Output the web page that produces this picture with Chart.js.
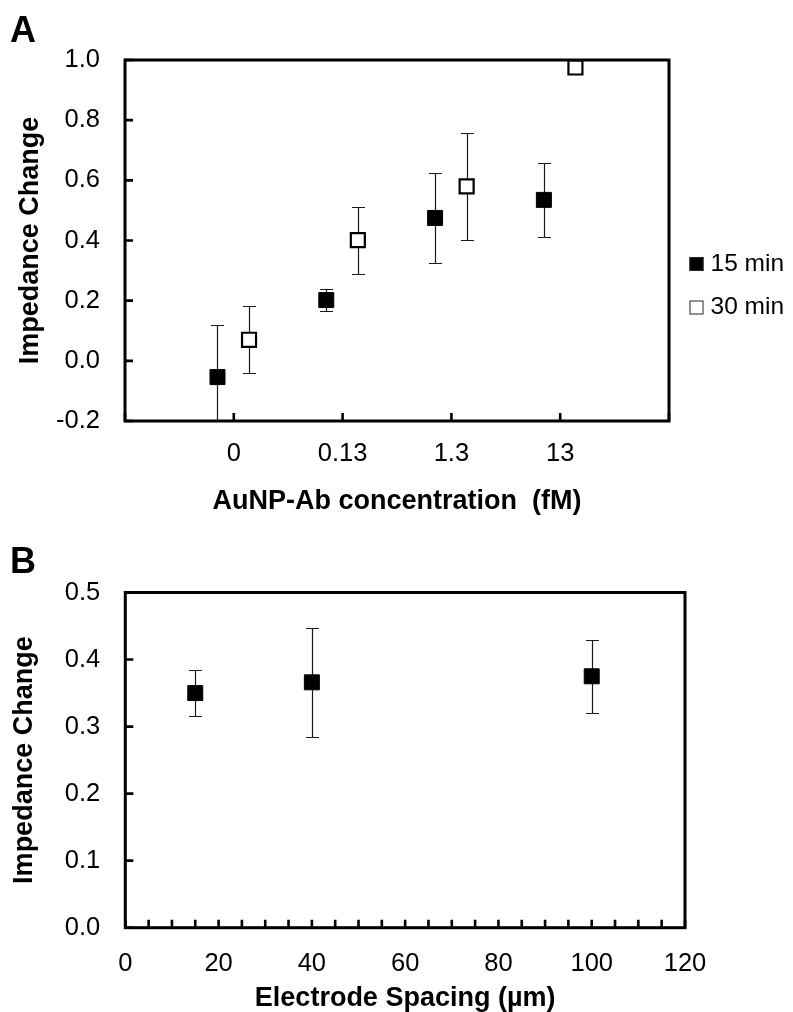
<!DOCTYPE html>
<html>
<head>
<meta charset="utf-8">
<script src="https://cdn.jsdelivr.net/npm/chart.js@4.4.1/dist/chart.umd.min.js"></script>
<style>
  html, body { margin: 0; padding: 0; background: #fff; }
  #wrapA { position: absolute; left: 0; top: 0; width: 793px; height: 525px; }
  #wrapB { position: absolute; left: 0; top: 525px; width: 793px; height: 487px; }
  canvas { display: block; }
</style>
</head>
<body>
<div id="wrapA"><canvas id="chartA" width="793" height="525"></canvas></div>
<div id="wrapB"><canvas id="chartB" width="793" height="487"></canvas></div>
<script>
// ---------- Data: panel A ----------
const categoriesA = ['0', '0.13', '1.3', '13'];
const seriesLabelsA = ['15 min', '30 min'];
const values15 = [-0.054, 0.202, 0.475, 0.535];
const errors15 = [0.173, 0.037, 0.150, 0.124];
const values30 = [0.070, 0.401, 0.580, 0.975];
const errors30 = [0.111, 0.112, 0.178, 0];
const yTickStepA = 0.2;

// ---------- Data: panel B ----------
const spacingB = [15, 40, 100];
const valuesB = [0.350, 0.366, 0.375];
const errorsB = [0.034, 0.081, 0.054];
const xLabelStepB = 20;
const xMinorStepB = 5;
const yTickStepB = 0.1;

// ---------- Styling / layout ----------
const FAMILY = '"Liberation Sans", Arial, Helvetica, sans-serif';
const OFFSET15 = -0.15;   // horizontal offset of series within a category slot
const OFFSET30 = 0.14;
Chart.defaults.font.family = FAMILY;
Chart.defaults.color = '#000';

const errorBars = {
  id: 'errorBars',
  beforeDatasetsDraw(chart) {
    const { ctx, chartArea: a, scales: { y } } = chart;
    ctx.save();
    ctx.beginPath();
    ctx.rect(a.left, a.top, a.right - a.left, a.bottom - a.top);
    ctx.clip();
    ctx.strokeStyle = '#1a1a1a';
    ctx.lineWidth = 1.2;
    chart.data.datasets.forEach((ds, di) => {
      const meta = chart.getDatasetMeta(di);
      meta.data.forEach((pt, i) => {
        const e = ds.errors ? ds.errors[i] : 0;
        if (!e) return;
        const v = ds.data[i].y;
        const x = Math.round(pt.x) + 0.5;
        const y1 = Math.round(y.getPixelForValue(v + e)) + 0.5;
        const y2 = Math.round(y.getPixelForValue(v - e)) + 0.5;
        ctx.beginPath();
        ctx.moveTo(x, y1); ctx.lineTo(x, y2);
        ctx.moveTo(x - 6.5, y1); ctx.lineTo(x + 6.5, y1);
        ctx.moveTo(x - 6.5, y2); ctx.lineTo(x + 6.5, y2);
        ctx.stroke();
      });
    });
    ctx.restore();
  }
};

const frame = {
  id: 'frame',
  afterDatasetsDraw(chart, args, opts) {
    const { ctx, chartArea: a, scales: { x, y } } = chart;
    ctx.save();
    ctx.strokeStyle = '#000';
    ctx.lineWidth = 2.6;
    ctx.beginPath();
    y.ticks.forEach(t => {
      const py = y.getPixelForValue(t.value);
      ctx.moveTo(a.left, py); ctx.lineTo(a.left + opts.tickLen, py);
    });
    x.ticks.forEach(t => {
      const px = x.getPixelForValue(t.value);
      ctx.moveTo(px, a.bottom); ctx.lineTo(px, a.bottom - opts.tickLen);
    });
    ctx.stroke();
    ctx.lineWidth = 3;
    ctx.strokeRect(a.left, a.top, a.right - a.left, a.bottom - a.top);
    ctx.fillStyle = '#000';
    ctx.font = 'bold 36px ' + FAMILY;
    ctx.textAlign = 'left';
    ctx.textBaseline = 'alphabetic';
    ctx.fillText(opts.letter, opts.letterX, opts.letterY);
    ctx.restore();
  }
};

const sideLegend = {
  id: 'sideLegend',
  afterDraw(chart, args, opts) {
    if (!opts || !opts.show) return;
    const ctx = chart.ctx;
    ctx.save();
    chart.data.datasets.forEach((ds, i) => {
      const cy = opts.y0 + i * opts.dy;
      ctx.fillStyle = ds.backgroundColor;
      ctx.fillRect(opts.x, cy - 7, 14, 14);
      ctx.strokeStyle = '#222';
      ctx.lineWidth = 1;
      ctx.strokeRect(opts.x + 0.5, cy - 6.5, 13, 13);
      ctx.fillStyle = '#000';
      ctx.font = '24.5px ' + FAMILY;
      ctx.textAlign = 'left';
      ctx.textBaseline = 'middle';
      ctx.fillText(ds.label, opts.x + 21, cy);
    });
    ctx.restore();
  }
};

function fmt1(v) { return (Math.abs(v) < 1e-9 ? 0 : v).toFixed(1); }

// ---------- Chart A ----------
new Chart(document.getElementById('chartA'), {
  type: 'scatter',
  data: {
    datasets: [
      {
        label: seriesLabelsA[0],
        data: values15.map((v, i) => ({ x: i + 1 + OFFSET15, y: v })),
        errors: errors15,
        pointStyle: 'rect', pointRadius: 10.6, pointHoverRadius: 10.6,
        backgroundColor: '#000', borderColor: '#000', borderWidth: 1
      },
      {
        label: seriesLabelsA[1],
        data: values30.map((v, i) => ({ x: i + 1 + OFFSET30, y: v })),
        errors: errors30,
        pointStyle: 'rect', pointRadius: 9.9, pointHoverRadius: 9.9,
        backgroundColor: '#fff', borderColor: '#000', borderWidth: 2.2
      }
    ]
  },
  options: {
    responsive: false,
    animation: false,
    devicePixelRatio: 1,
    layout: { padding: { top: 60, right: 124, left: 0, bottom: 0 } },
    plugins: {
      legend: { display: false },
      tooltip: { enabled: false },
      frame: { tickLen: 8, letter: 'A', letterX: 10, letterY: 41.5 },
      sideLegend: { show: true, x: 689.5, y0: 264, dy: 43.5 }
    },
    scales: {
      x: {
        type: 'linear', min: 0, max: categoriesA.length + 1,
        grid: { display: false, drawTicks: false }, border: { display: false },
        ticks: {
          stepSize: 1, autoSkip: false, maxRotation: 0, padding: 17.5,
          color: '#000', font: { size: 25.5 },
          callback: (v) => categoriesA[v - 1] ?? ''
        },
        title: {
          display: true, text: 'AuNP-Ab concentration  (fM)', color: '#000',
          font: { size: 27, weight: 'bold', lineHeight: 1 },
          padding: { top: 0, bottom: 9.5 }
        },
        afterFit(s) { s.height = 104; }
      },
      y: {
        type: 'linear', min: -0.2, max: 1.0,
        grid: { display: false, drawTicks: false }, border: { display: false },
        ticks: { stepSize: yTickStepA, padding: 25, color: '#000', font: { size: 25.5 }, callback: fmt1 },
        title: {
          display: true, text: 'Impedance Change', color: '#000',
          font: { size: 27, weight: 'bold', lineHeight: 1 },
          padding: { top: 17, bottom: 0 }
        },
        afterFit(s) { s.width = 125; }
      }
    }
  },
  plugins: [errorBars, frame, sideLegend]
});

// ---------- Chart B ----------
new Chart(document.getElementById('chartB'), {
  type: 'scatter',
  data: {
    datasets: [
      {
        label: 'Impedance Change',
        data: spacingB.map((s, i) => ({ x: s, y: valuesB[i] })),
        errors: errorsB,
        pointStyle: 'rect', pointRadius: 10.6, pointHoverRadius: 10.6,
        backgroundColor: '#000', borderColor: '#000', borderWidth: 1
      }
    ]
  },
  options: {
    responsive: false,
    animation: false,
    devicePixelRatio: 1,
    layout: { padding: { top: 67.5, right: 108, left: 0, bottom: 0 } },
    plugins: {
      legend: { display: false },
      tooltip: { enabled: false },
      frame: { tickLen: 8, letter: 'B', letterX: 10, letterY: 48 },
      sideLegend: { show: false }
    },
    scales: {
      x: {
        type: 'linear', min: 0, max: 120,
        grid: { display: false, drawTicks: false }, border: { display: false },
        ticks: {
          stepSize: xMinorStepB, autoSkip: false, maxRotation: 0, padding: 21,
          color: '#000', font: { size: 25.5 },
          callback: (v) => (v % xLabelStepB === 0 ? String(v) : '')
        },
        title: {
          display: true, text: 'Electrode Spacing (µm)', color: '#000',
          font: { size: 27, weight: 'bold', lineHeight: 1 },
          padding: { top: 0, bottom: 0 }
        },
        afterFit(s) { s.height = 84.3; }
      },
      y: {
        type: 'linear', min: 0, max: 0.5,
        grid: { display: false, drawTicks: false }, border: { display: false },
        ticks: { stepSize: yTickStepB, padding: 25, color: '#000', font: { size: 25.5 }, callback: fmt1 },
        title: {
          display: true, text: 'Impedance Change', color: '#000',
          font: { size: 27, weight: 'bold', lineHeight: 1 },
          padding: { top: 10.6, bottom: 0 }
        },
        afterFit(s) { s.width = 125.3; }
      }
    }
  },
  plugins: [errorBars, frame, sideLegend]
});
</script>
</body>
</html>
